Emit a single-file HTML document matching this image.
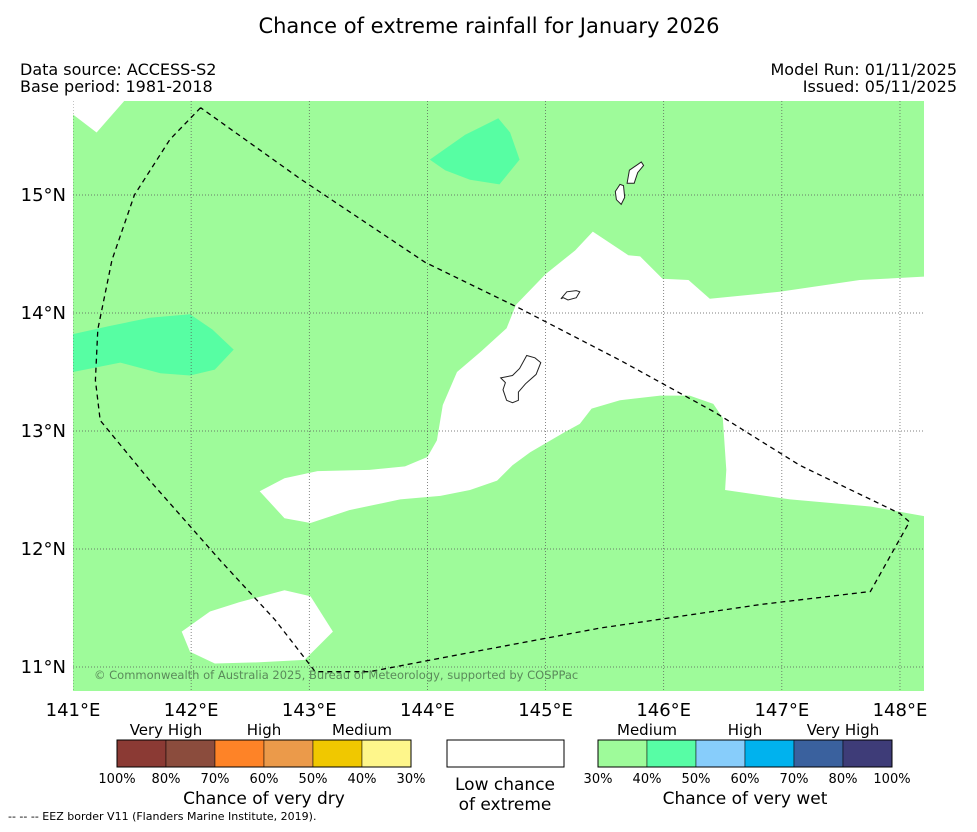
<!DOCTYPE html>
<html><head><meta charset="utf-8"><style>
body{margin:0;background:#fff;font-family:"Liberation Sans","DejaVu Sans",sans-serif}
svg text{font-family:"DejaVu Sans","Liberation Sans",sans-serif}
</style></head><body>
<svg id="chart" width="977" height="827" viewBox="0 0 977 827" xmlns="http://www.w3.org/2000/svg">
<text x="489" y="33" font-size="21" text-anchor="middle">Chance of extreme rainfall for January 2026</text>
<text x="20" y="75" font-size="16">Data source: ACCESS-S2</text>
<text x="20" y="92" font-size="16">Base period: 1981-2018</text>
<text x="957" y="75" font-size="16" text-anchor="end">Model Run: 01/11/2025</text>
<text x="957" y="92" font-size="16" text-anchor="end">Issued: 05/11/2025</text>
<defs><clipPath id="mapclip"><rect x="73" y="101" width="851" height="590"/></clipPath></defs>
<g id="map" clip-path="url(#mapclip)"></g>
<g id="axes"></g>
<g id="legend"></g>
</svg>
<script>
const lonTicks=[141,142,143,144,145,146,147,148];
const latTicks=[11,12,13,14,15];
const whiteMain=[[142.58,12.49],[142.79,12.60],[143.07,12.66],[143.51,12.67],[143.81,12.70],[144.00,12.78],[144.08,12.92],[144.13,13.22],[144.25,13.50],[144.45,13.67],[144.67,13.87],[144.75,14.07],[145.00,14.33],[145.25,14.53],[145.40,14.69],[145.70,14.49],[145.80,14.48],[145.99,14.29],[146.21,14.28],[146.39,14.12],[146.98,14.18],[147.66,14.28],[148.25,14.31],[148.25,12.27],[147.75,12.36],[147.07,12.42],[146.52,12.50],[146.53,12.67],[146.50,13.11],[146.42,13.23],[146.22,13.30],[145.97,13.30],[145.63,13.26],[145.39,13.19],[145.29,13.06],[145.16,12.99],[144.87,12.82],[144.72,12.71],[144.59,12.58],[144.36,12.50],[144.11,12.45],[143.77,12.42],[143.34,12.33],[143.01,12.22],[142.79,12.26]];
const whiteSW=[[141.92,11.30],[142.16,11.47],[142.41,11.55],[142.79,11.65],[143.01,11.60],[143.20,11.30],[142.96,11.06],[142.58,11.04],[142.20,11.03],[141.99,11.13]];
const whiteNW=[[140.95,15.85],[141.48,15.85],[141.20,15.53],[140.95,15.72]];
const tealN=[[144.02,15.30],[144.32,15.51],[144.60,15.65],[144.70,15.53],[144.78,15.30],[144.61,15.09],[144.36,15.13],[144.15,15.21]];
const tealW=[[140.95,13.81],[141.31,13.89],[141.65,13.96],[141.99,13.99],[142.18,13.86],[142.36,13.69],[142.20,13.52],[141.99,13.47],[141.74,13.49],[141.40,13.58],[140.95,13.49]];
const eez=[[142.08,15.74],[141.82,15.47],[141.52,15.00],[141.33,14.45],[141.21,13.86],[141.19,13.43],[141.23,13.09],[141.65,12.58],[142.24,11.91],[142.71,11.40],[143.05,10.96],[143.51,10.96],[144.45,11.14],[145.46,11.33],[146.82,11.53],[147.75,11.64],[148.08,12.23],[148.00,12.30],[147.15,12.71],[146.43,13.16],[145.63,13.60],[144.78,14.04],[143.98,14.43],[142.92,15.14],[142.08,15.74]];
const guam=[[144.62,13.45],[144.72,13.47],[144.78,13.53],[144.84,13.64],[144.91,13.62],[144.96,13.58],[144.92,13.48],[144.83,13.40],[144.77,13.33],[144.77,13.26],[144.72,13.24],[144.67,13.26],[144.64,13.35],[144.66,13.41]];
const rota=[[145.13,14.12],[145.18,14.18],[145.26,14.19],[145.29,14.18],[145.26,14.13],[145.19,14.11],[145.15,14.13]];
const tinian=[[145.59,15.03],[145.63,15.09],[145.66,15.08],[145.67,14.98],[145.64,14.92],[145.60,14.96]];
const saipan=[[145.71,15.21],[145.81,15.28],[145.83,15.25],[145.78,15.19],[145.75,15.10],[145.69,15.10]];
const dryLabels=["100%","80%","70%","60%","50%","40%","30%"];
const wetLabels=["30%","40%","50%","60%","70%","80%","100%"];
const dryColors=["#8b3a34","#8b4c3d","#fe8327","#eb9a4a","#f0c800","#fef68b"];
const wetColors=["#9efb9a","#57fda5","#87cdfb","#00b2ee","#3a619e","#3e3c78"];
const NS="http://www.w3.org/2000/svg";
const X=lon=>73+(lon-141)*118.14;
const Y=lat=>195-(lat-15)*118;
function mk(tag,attrs,parent){const e=document.createElementNS(NS,tag);for(const k in attrs)e.setAttribute(k,attrs[k]);parent.appendChild(e);return e;}
const pts=a=>a.map(p=>X(p[0]).toFixed(1)+","+Y(p[1]).toFixed(1)).join(" ");
const map=document.getElementById('map');
let e=mk('rect',{x:73,y:101,width:851,height:590,fill:'#9efb9a'},map);


[[whiteMain,'#fff','low-chance-region-central'],[whiteSW,'#fff','low-chance-region-southwest'],[whiteNW,'#fff','low-chance-region-northwest'],[tealN,'#57fea3','wet-40-50-region-north'],[tealW,'#57fea3','wet-40-50-region-west']].forEach(r=>{
 const p=mk('polygon',{points:pts(r[0]),fill:r[1]},map);
 
 
});
lonTicks.forEach(l=>{const g=mk('line',{x1:X(l),x2:X(l),y1:101,y2:691,stroke:'#555','stroke-width':0.7,'stroke-dasharray':'1,2'},map);
 
 });
latTicks.forEach(l=>{const g=mk('line',{x1:73,x2:924,y1:Y(l),y2:Y(l),stroke:'#555','stroke-width':0.7,'stroke-dasharray':'1,2'},map);
 
 });
[[guam,'guam-outline'],[rota,'rota-outline'],[tinian,'tinian-outline'],[saipan,'saipan-outline']].forEach(r=>{
 const p=mk('polygon',{points:pts(r[0]),fill:'#fff',stroke:'#222','stroke-width':1},map);
 
 
});
e=mk('polyline',{points:pts(eez),fill:'none',stroke:'#000','stroke-width':1.3,'stroke-dasharray':'5,4'},map);


e=mk('text',{x:94,y:679,'font-size':11.5,fill:'#5a8a5a'},map);e.textContent='© Commonwealth of Australia 2025, Bureau of Meteorology, supported by COSPPac';


const axes=document.getElementById('axes');
lonTicks.forEach(l=>{const t=mk('text',{x:X(l),y:716,'font-size':18,'text-anchor':'middle'},axes);t.textContent=l+'°E';
 
 });
latTicks.forEach(l=>{const t=mk('text',{x:66,y:Y(l)+6,'font-size':18,'text-anchor':'end'},axes);t.textContent=l+'°N';
 
 });
const lg=document.getElementById('legend');
function bar(x0,colors,labels,name){
 const w=49;
 colors.forEach((c,i)=>{const r=mk('rect',{x:x0+i*w,y:740,width:w,height:27,fill:c,stroke:'#000','stroke-width':0.5},lg);
  
  });
 mk('rect',{x:x0,y:740,width:w*colors.length,height:27,fill:'none',stroke:'#000','stroke-width':1},lg);
 labels.forEach((s,i)=>{const t=mk('text',{x:x0+i*w,y:783,'font-size':13,'text-anchor':'middle'},lg);t.textContent=s;
  
  });
}
bar(117,dryColors,dryLabels,'dry');
bar(598,wetColors,wetLabels,'wet');
function txt(x,y,s,size,name){const t=mk('text',{x:x,y:y,'font-size':size,'text-anchor':'middle'},lg);t.textContent=s;
 
 }
txt(166,735,'Very High',15,'dry-very-high-label');txt(264,735,'High',15,'dry-high-label');txt(362,735,'Medium',15,'dry-medium-label');
txt(647,735,'Medium',15,'wet-medium-label');txt(745,735,'High',15,'wet-high-label');txt(843,735,'Very High',15,'wet-very-high-label');
txt(264,804,'Chance of very dry',17,'dry-caption');txt(745,804,'Chance of very wet',17,'wet-caption');
e=mk('rect',{x:447,y:740,width:117,height:27,fill:'#fff',stroke:'#000','stroke-width':1},lg);


txt(505,790,'Low chance',17,'low-chance-label-1');txt(505,810,'of extreme',17,'low-chance-label-2');
e=mk('text',{x:8,y:820,'font-size':11},lg);e.textContent='--  --  -- EEZ border V11 (Flanders Marine Institute, 2019).';


</script>
</body></html>
